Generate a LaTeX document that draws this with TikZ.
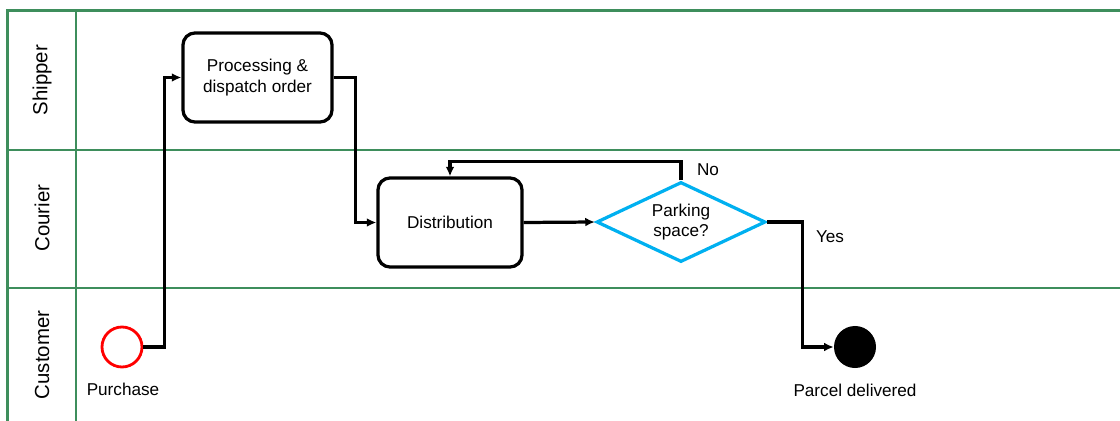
\documentclass[tikz,border=0pt]{standalone}
\usepackage{fontspec}
\setmainfont{Liberation Sans}
\usepackage{xcolor}
\usepackage{tikz}
\usetikzlibrary{shapes,arrows.meta,positioning}

\definecolor{lanegreen}{RGB}{62,142,92}
\definecolor{gateblue}{RGB}{0,176,240}

\begin{document}
\begin{tikzpicture}[
  x=0.025cm, y=-0.025cm,
  lane/.style={draw=lanegreen, line width=1.9pt},
  lanelabel/.style={rotate=90, font=\fontsize{14.5}{16}\selectfont},
  task/.style={rectangle, draw, line width=2.3pt, rounded corners=0.3cm, align=center, font=\fontsize{12.2}{14.5}\selectfont},
  gate/.style={diamond, draw=gateblue, line width=2.3pt, inner sep=0pt, aspect=2.1, minimum width=4.225cm, minimum height=2cm, align=center, font=\fontsize{12.2}{14.5}\selectfont},
  flow/.style={-{Latex[length=2.4mm,width=2.2mm]}, line width=2.3pt},
  note/.style={font=\fontsize{12.2}{14.5}\selectfont},
]
\useasboundingbox (0,0) rectangle (1120,421);

% Swimlanes
\draw[lane] (1120,10.5) -- (7.5,10.5) -- (7.5,421);
\draw[lane] (76,10.5) -- (76,421);
\draw[lane] (7.5,150) -- (1120,150);
\draw[lane] (7.5,288) -- (1120,288);

\node[lanelabel] (shipper) at (42,80) {Shipper};
\node[lanelabel] (courier) at (42,218) {Courier};
\node[lanelabel] (customer) at (42,355) {Customer};

% Events
\node[circle, draw=red, line width=2pt, minimum size=1cm, inner sep=0pt] (start) at (122,347) {};
\node[circle, fill=black, minimum size=1.05cm, inner sep=0pt] (end) at (855,347) {};
\node[note] (purchase) at (123,389) {Purchase};
\node[note] (delivered) at (855,390) {Parcel delivered};

% Tasks and gateway
\node[task, minimum width=3.725cm, minimum height=2.225cm] (proc) at (257.5,77.5) {Processing \&\\dispatch order};
\node[task, minimum width=3.6cm, minimum height=2.225cm] (dist) at (450,222.5) {Distribution};
\node[gate] (park) at (681,222) {Parking\\space?};

% Sequence flows
\draw[flow] (start.east) -- ++(21,0) |- (proc.west);
\draw[flow] (proc.east) -- ++(22,0) |- (dist.west);
\draw[flow] (dist.east) -- (park.west);
\draw[flow] (park.north) -- ++(0,-19) -| (dist.north);
\draw[flow] (park.east) -- ++(35,0) |- (end.west);

% Gateway labels
\node[note] (no) at (708,170) {No};
\node[note] (yes) at (830,237) {Yes};
\end{tikzpicture}
\end{document}
